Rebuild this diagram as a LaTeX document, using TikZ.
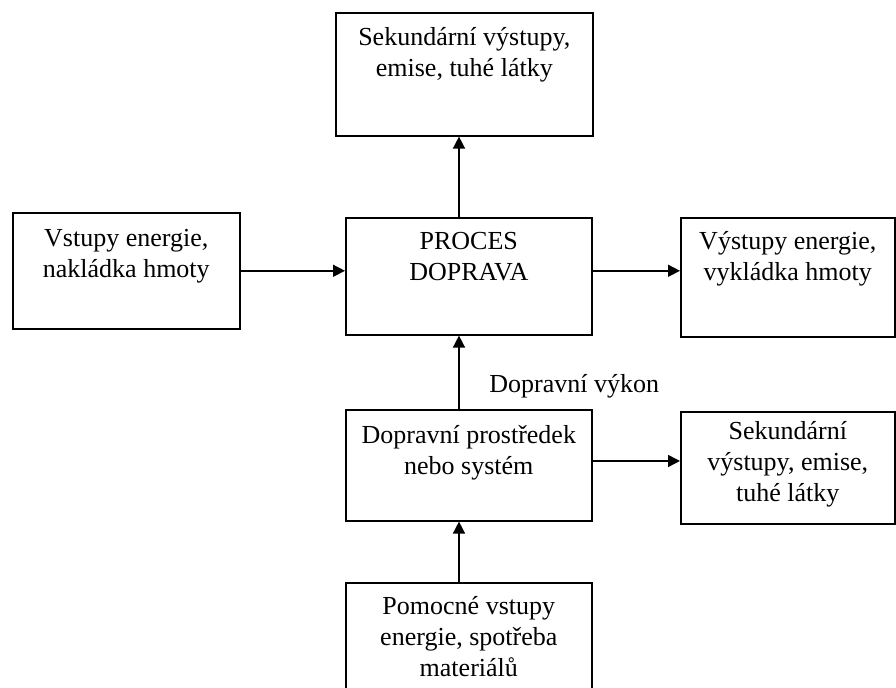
\documentclass[tikz,border=0pt]{standalone}
\usepackage{fontspec}
\setmainfont{Liberation Serif}
\usetikzlibrary{arrows.meta}

% text block sitting at the top of a box: width, height, first-line strut, text
\newcommand{\boxtext}[4]{\parbox[t][#2][t]{#1}{\centering\rule{0pt}{#3}#4}}

\begin{document}
\begin{tikzpicture}[x=0.5pt, y=-0.5pt,
  blok/.style={draw, line width=0.8pt, inner sep=0pt, anchor=north west},
  arr/.style={-{Triangle[length=6pt, width=6pt]}, line width=0.75pt},
  lbl/.style={anchor=west, inner sep=0pt},
  font=\fontsize{13}{15.5}\selectfont,
]
  \useasboundingbox (0,0) rectangle (896,688);
  \clip (0,0) rectangle (896,688);
  \coordinate (osa) at (459,0);
  \coordinate (vodor) at (0,461);

  \node[blok] (sek)   at (335,12)  {\boxtext{128.5pt}{61.5pt}{16.5pt}{Sekundární výstupy,\\ emise, tuhé látky}};
  \node[blok] (vst)   at (12,212)  {\boxtext{113.5pt}{58pt}{17pt}{Vstupy energie,\\ nakládka hmoty}};
  \node[blok] (proc)  at (345,217) {\boxtext{123pt}{58.5pt}{16pt}{PROCES\\ DOPRAVA}};
  \node[blok] (vyst)  at (680,217) {\boxtext{107pt}{59.5pt}{16pt}{Výstupy energie,\\ vykládka hmoty}};
  \node[blok] (prost) at (345,409) {\boxtext{123pt}{55.5pt}{17pt}{Dopravní prostředek\\ nebo systém}};
  \node[blok] (sek2)  at (680,411) {\boxtext{107pt}{56pt}{14pt}{Sekundární\\ výstupy, emise,\\ tuhé látky}};
  \node[blok] (pom)   at (345,582) {\boxtext{123pt}{60pt}{16pt}{Pomocné vstupy\\ energie, spotřeba\\ materiálů}};
  \node[lbl] (vykon)  at (489,386) {Dopravní výkon};

  \draw[arr] (vst.east) -- (vst.east -| proc.west);
  \draw[arr] (vst.east -| proc.east) -- (vst.east -| vyst.west);
  \draw[arr] (osa |- proc.north) -- (osa |- sek.south);
  \draw[arr] (osa |- prost.north) -- (osa |- proc.south);
  \draw[arr] (osa |- pom.north) -- (osa |- prost.south);
  \draw[arr] (vodor -| prost.east) -- (vodor -| sek2.west);
\end{tikzpicture}
\end{document}
